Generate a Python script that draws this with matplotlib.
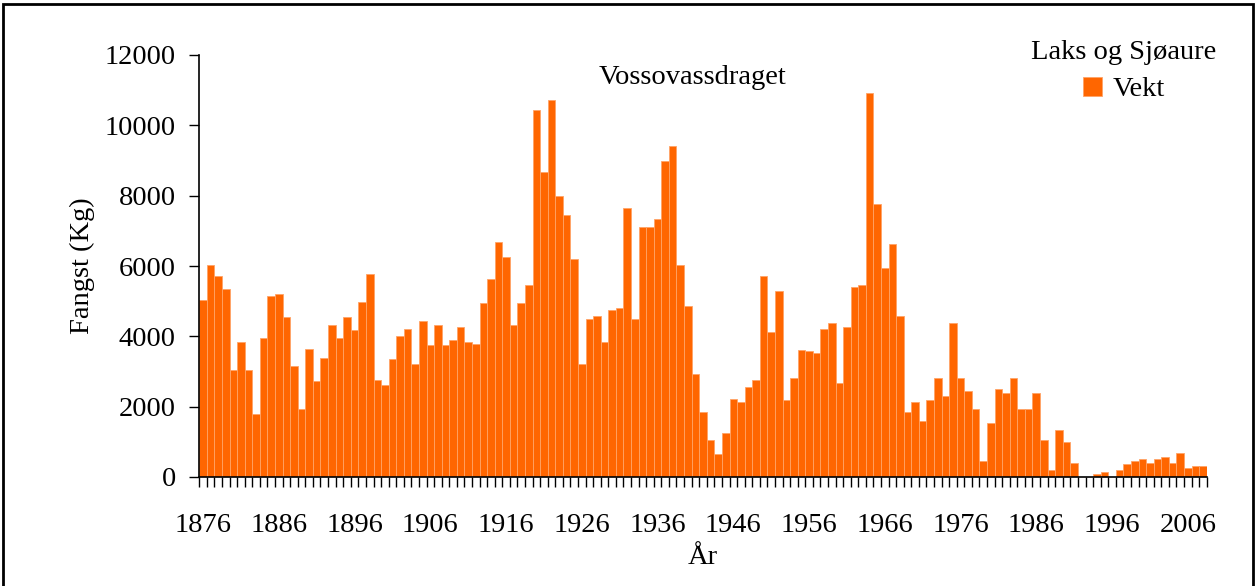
import numpy as np
import matplotlib
matplotlib.use("Agg")
import matplotlib.pyplot as plt
from matplotlib.patches import Rectangle

plt.rcParams['font.family'] = ['Liberation Serif', 'DejaVu Serif']

# catch (kg) per year
years = list(range(1876, 2009))
vekt = [
    5030, 6040, 5720, 5340, 3040, 3840, 3040, 1800, 3960, 5140,   # 1876-1885
    5190, 4550, 3150, 1920, 3630, 2720, 3370, 4320, 3960, 4550,   # 1886-1895
    4170, 4970, 5770, 2770, 2610, 3360, 4010, 4210, 3210, 4430,   # 1896-1905
    3750, 4320, 3740, 3890, 4270, 3840, 3790, 4960, 5620, 6680,   # 1906-1915
    6250, 4320, 4960, 5450, 10450, 8670, 10710, 7980, 7440, 6200, # 1916-1925
    3200, 4490, 4590, 3840, 4750, 4810, 7650, 4490, 7110, 7110,   # 1926-1935
    7330, 9000, 9420, 6040, 4860, 2940, 1860, 1040, 660, 1250,    # 1936-1945
    2230, 2130, 2550, 2760, 5710, 4110, 5290, 2180, 2820, 3620,   # 1946-1955
    3580, 3520, 4210, 4370, 2670, 4270, 5390, 5450, 10930, 7750,  # 1956-1965
    5930, 6630, 4590, 1860, 2130, 1590, 2180, 2820, 2290, 4370,   # 1966-1975
    2820, 2450, 1920, 460, 1540, 2510, 2400, 2820, 1920, 1920,    # 1976-1985
    2400, 1060, 190, 1330, 1000, 400, 0, 0, 95, 140,              # 1986-1995
    0, 190, 360, 460, 520, 410, 520, 580, 410, 670,               # 1996-2005
    260, 300, 300,                                                # 2006-2008
]
label_years = list(range(1876, 2009, 10))

FS = 20.5
W, H = 1257, 586
fig = plt.figure(figsize=(W / 100, H / 100), dpi=100)
ax = fig.add_axes([199.3 / W, 1 - 477 / H, 1007.4 / W, 422 / H])

x = np.arange(len(years))
ax.bar(x, vekt, width=1.0, color='#ff6600', edgecolor='#ffa366',
       linewidth=0.6, label='Vekt')

ax.set_xlim(-0.5, len(years) - 0.5)
ax.set_ylim(0, 12000)
ax.set_yticks(np.arange(0, 12001, 2000))
ax.tick_params(axis='y', direction='out', length=7, width=1, pad=10,
               labelsize=FS)

# tick marks at every category boundary, labels every tenth year
ax.set_xticks(np.arange(-0.5, len(years)), minor=True)
ax.set_xticks([years.index(y) for y in label_years])
ax.set_xticklabels([str(y) for y in label_years])
ax.tick_params(axis='x', which='minor', direction='out', length=7, width=1)
ax.tick_params(axis='x', which='major', length=0, pad=26, labelsize=FS)

for s in ['top', 'right']:
    ax.spines[s].set_visible(False)
for s in ['left', 'bottom']:
    ax.spines[s].set_linewidth(1.2)

ax.set_xlabel('År', fontsize=FS, labelpad=5)
ax.set_ylabel('Fangst (Kg)', fontsize=FS, labelpad=7)

fig.text(693 / W, 1 - 77 / H, 'Vossovassdraget', fontsize=FS,
         ha='center', va='center')

leg = ax.legend(title='Laks og Sjøaure', loc='upper center',
                bbox_to_anchor=(1124 / W, 1 - 26 / H),
                bbox_transform=fig.transFigure, frameon=False,
                fontsize=FS, title_fontsize=FS, handlelength=0.67,
                handleheight=0.67, handletextpad=0.35, borderpad=0,
                labelspacing=0.4)

# chart area border
fig.patches.append(Rectangle((3 / W, -0.05), 1250 / W, 1.05 - 4 / H,
                             transform=fig.transFigure, fill=False,
                             edgecolor='black', linewidth=2))

fig.savefig('out.png', dpi=100)
